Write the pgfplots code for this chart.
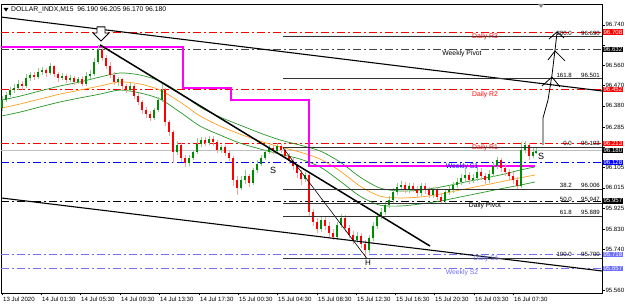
\documentclass[border=0pt]{standalone}
\usepackage{pgfplots}
\pgfplotsset{compat=1.18}
\usepackage{pgfplotstable}
\usepackage{fontspec}
\setmainfont{Liberation Sans}
\definecolor{mtred}{RGB}{255,0,0}
\definecolor{lblue}{RGB}{110,110,255}
\definecolor{mablue}{RGB}{0,0,255}
\definecolor{magent}{RGB}{255,0,255}
\definecolor{magreen}{RGB}{40,150,40}
\definecolor{maorange}{RGB}{255,160,30}
\definecolor{bullbody}{RGB}{0,140,0}
\definecolor{bullwick}{RGB}{140,205,140}
\definecolor{bearbody}{RGB}{255,0,0}
\definecolor{bearwick}{RGB}{255,160,160}
\definecolor{wpiv}{RGB}{70,70,70}
\definecolor{fibc}{RGB}{50,50,50}
\newcommand\ff{\fontsize{6.8}{7.5}\selectfont}
\newcommand\fs{\fontsize{6.1}{7}\selectfont}
\tikzset{dd/.style={dash pattern=on 8pt off 3pt on 2pt off 3pt, line width=0.7pt}}

\pgfplotstableread{
x o h l c
2 96.370 96.423 96.357 96.406
6 96.406 96.441 96.397 96.428
10 96.428 96.464 96.419 96.450
14 96.450 96.477 96.437 96.459
18 96.459 96.495 96.450 96.477
22 96.477 96.490 96.450 96.468
26 96.468 96.522 96.459 96.504
30 96.504 96.530 96.490 96.517
34 96.517 96.530 96.495 96.508
38 96.508 96.548 96.499 96.530
42 96.530 96.553 96.517 96.539
46 96.539 96.548 96.508 96.526
50 96.526 96.570 96.517 96.557
54 96.557 96.562 96.508 96.522
58 96.522 96.530 96.486 96.504
62 96.504 96.526 96.495 96.513
66 96.513 96.522 96.481 96.495
70 96.495 96.517 96.486 96.504
74 96.504 96.513 96.473 96.486
78 96.486 96.508 96.477 96.499
82 96.499 96.513 96.468 96.477
86 96.477 96.530 96.468 96.513
90 96.513 96.539 96.499 96.522
94 96.522 96.593 96.513 96.575
98 96.575 96.651 96.566 96.628
102 96.628 96.642 96.580 96.593
106 96.593 96.606 96.544 96.557
110 96.557 96.575 96.504 96.517
114 96.517 96.530 96.473 96.486
118 96.486 96.508 96.468 96.499
122 96.499 96.504 96.450 96.468
126 96.468 96.477 96.437 96.450
130 96.450 96.481 96.441 96.468
134 96.468 96.477 96.410 96.423
138 96.423 96.437 96.384 96.397
142 96.397 96.406 96.343 96.361
146 96.361 96.375 96.326 96.343
150 96.343 96.357 96.312 96.326
154 96.326 96.370 96.317 96.361
158 96.361 96.419 96.352 96.406
162 96.406 96.481 96.397 96.450
165 96.450 96.459 96.290 96.308
169 96.308 96.317 96.246 96.263
173 96.263 96.272 96.125 96.174
177 96.174 96.223 96.161 96.205
181 96.205 96.214 96.130 96.148
185 96.148 96.161 96.108 96.125
189 96.125 96.161 96.112 96.148
193 96.148 96.183 96.139 96.174
197 96.174 96.237 96.165 96.210
201 96.210 96.241 96.197 96.228
205 96.228 96.241 96.201 96.214
209 96.214 96.246 96.205 96.232
213 96.232 96.246 96.201 96.219
217 96.219 96.228 96.170 96.183
221 96.183 96.205 96.170 96.197
225 96.197 96.205 96.156 96.170
229 96.170 96.183 96.134 96.148
233 96.148 96.156 96.023 96.050
237 96.050 96.067 95.983 96.014
241 96.014 96.067 96.005 96.050
245 96.050 96.094 96.032 96.067
249 96.067 96.076 96.018 96.036
253 96.036 96.103 96.027 96.094
257 96.094 96.139 96.085 96.121
261 96.121 96.161 96.112 96.148
265 96.148 96.183 96.139 96.174
269 96.174 96.205 96.165 96.192
273 96.192 96.205 96.165 96.179
277 96.179 96.214 96.170 96.201
281 96.201 96.210 96.170 96.183
285 96.183 96.192 96.143 96.156
289 96.156 96.170 96.121 96.134
293 96.134 96.148 96.094 96.112
297 96.112 96.121 96.059 96.081
301 96.081 96.094 96.027 96.054
305 96.054 96.085 96.041 96.072
309 96.072 96.081 95.889 95.907
313 95.907 95.921 95.845 95.863
317 95.863 95.880 95.814 95.832
321 95.832 95.885 95.818 95.872
325 95.872 95.885 95.827 95.845
329 95.845 95.863 95.796 95.814
333 95.814 95.832 95.783 95.796
337 95.796 95.863 95.783 95.849
341 95.849 95.898 95.836 95.880
345 95.880 95.894 95.818 95.836
349 95.836 95.849 95.791 95.805
353 95.805 95.823 95.765 95.783
357 95.783 95.818 95.769 95.800
361 95.800 95.814 95.747 95.765
365 95.765 95.783 95.702 95.738
369 95.738 95.805 95.725 95.791
373 95.791 95.863 95.778 95.845
377 95.845 95.903 95.832 95.889
381 95.889 95.925 95.876 95.907
385 95.907 95.956 95.894 95.938
389 95.938 95.978 95.925 95.961
393 95.961 96.014 95.947 95.996
397 95.996 96.036 95.983 96.018
401 96.018 96.045 96.005 96.027
405 96.027 96.041 95.992 96.005
409 96.005 96.036 95.992 96.023
413 96.023 96.036 95.996 96.010
417 96.010 96.023 95.974 95.992
421 95.992 96.036 95.978 96.023
425 96.023 96.036 95.987 96.005
429 96.005 96.018 95.970 95.983
433 95.983 96.018 95.970 96.005
437 96.005 96.018 95.961 95.974
441 95.974 95.987 95.943 95.956
445 95.956 96.010 95.943 95.996
449 95.996 96.023 95.983 96.005
453 96.005 96.041 95.992 96.027
457 96.027 96.059 96.014 96.041
461 96.041 96.076 96.027 96.059
465 96.059 96.094 96.041 96.072
469 96.072 96.085 96.032 96.050
473 96.050 96.076 96.036 96.059
477 96.059 96.103 96.045 96.085
481 96.085 96.103 96.050 96.067
485 96.067 96.081 96.032 96.050
489 96.050 96.094 96.036 96.076
493 96.076 96.130 96.063 96.112
497 96.112 96.152 96.099 96.139
501 96.139 96.148 96.085 96.103
505 96.103 96.121 96.067 96.085
509 96.085 96.099 96.050 96.067
513 96.067 96.085 96.032 96.050
517 96.050 96.063 96.005 96.023
521 96.023 96.219 96.014 96.183
525 96.183 96.223 96.170 96.205
529 96.205 96.214 96.139 96.156
533 96.156 96.192 96.148 96.174
536 96.174 96.192 96.165 96.179
}\candles

\begin{document}
\begin{tikzpicture}
\useasboundingbox (0,0) rectangle (625pt,307pt);
\fill[white] (0,0) rectangle (625pt,307pt);
\begin{axis}[
  at={(1pt,14pt)}, anchor=south west,
  width=601pt, height=289pt, scale only axis,
  xmin=1, xmax=602, ymin=95.547, ymax=96.833,
  axis line style={line width=0.7pt, black},
  /pgf/number format/assume math mode=true,
  xtick={2,41,80,120,159,199,238,277,317,356,395,434,474,513},
  xticklabels={13 Jul 2020,14 Jul 01:30,14 Jul 05:30,14 Jul 09:30,14 Jul 13:30,14 Jul 17:30,15 Jul 00:30,15 Jul 04:30,15 Jul 08:30,15 Jul 12:30,15 Jul 16:30,15 Jul 20:30,16 Jul 03:30,16 Jul 07:30},
  xtick pos=bottom, ytick pos=right, tick align=outside,
  major tick length=2.5pt, tick style={black, line width=0.5pt},
  xticklabel style={anchor=north west, font=\fs, inner sep=0pt, yshift=-1.5pt, xshift=1pt},
  ytick={95.560,95.650,95.740,95.830,95.925,96.015,96.105,96.195,96.285,96.380,96.470,96.560,96.650,96.740},
  yticklabels={95.560,,95.740,95.830,95.925,96.015,96.105,,96.285,96.380,96.470,96.560,,96.740},
  yticklabel pos=right, scaled y ticks=false,
  yticklabel style={font=\fs, anchor=west, inner sep=0pt, xshift=0.8pt},
]
% pivot levels
\addplot[mtred, dd] coordinates {(1,96.708) (602,96.708)};
\addplot[wpiv, dd] coordinates {(1,96.632) (602,96.632)};
\addplot[mtred, dd] coordinates {(1,96.452) (602,96.452)};
\addplot[mtred, dd] coordinates {(1,96.213) (602,96.213)};
\addplot[black!25, line width=0.7pt] coordinates {(1,96.180) (602,96.180)};
\addplot[mablue, dd] coordinates {(1,96.128) (602,96.128)};
\addplot[black, dd] coordinates {(1,95.957) (602,95.957)};
\addplot[lblue, dd] coordinates {(1,95.718) (602,95.718)};
\addplot[lblue, dd] coordinates {(1,95.657) (602,95.657)};
% moving averages
\addplot[magreen, line width=0.7pt, smooth] coordinates {(2,96.406) (20,96.423) (40,96.446) (60,96.468) (80,96.486) (100,96.508) (120,96.526) (140,96.517) (160,96.490) (180,96.437) (200,96.375) (220,96.330) (240,96.294) (260,96.259) (280,96.228) (300,96.205) (320,96.179) (340,96.130) (360,96.063) (380,96.014) (400,96.001) (420,96.005) (440,96.018) (460,96.036) (480,96.054) (500,96.072) (520,96.094) (535,96.108)};
\addplot[maorange, line width=0.7pt, smooth] coordinates {(2,96.370) (20,96.388) (40,96.410) (60,96.432) (80,96.450) (100,96.468) (120,96.486) (140,96.477) (160,96.450) (180,96.397) (200,96.335) (220,96.290) (240,96.254) (260,96.223) (280,96.197) (300,96.174) (320,96.143) (340,96.090) (360,96.023) (380,95.978) (400,95.970) (420,95.974) (440,95.987) (460,96.005) (480,96.023) (500,96.041) (520,96.059) (535,96.072)};
\addplot[magreen, line width=0.7pt, smooth] coordinates {(2,96.335) (20,96.352) (40,96.375) (60,96.397) (80,96.415) (100,96.432) (120,96.450) (140,96.437) (160,96.410) (180,96.352) (200,96.290) (220,96.250) (240,96.214) (260,96.188) (280,96.165) (300,96.143) (320,96.108) (340,96.045) (360,95.978) (380,95.938) (400,95.934) (420,95.943) (440,95.956) (460,95.974) (480,95.992) (500,96.010) (520,96.027) (535,96.041)};
% weekly pivot step line
\addplot[magent, line width=1.4pt] coordinates {(1,96.642) (183,96.642) (183,96.459) (231,96.459) (231,96.406) (309,96.406) (309,96.112) (535,96.112)};
% candles: wicks and bodies
\addplot[draw=none, mark=none, forget plot, restrict y to domain=95:97,
  error bars/.cd, y dir=both, y explicit, error mark=none,
  error bar style={line width=0.8pt, color=bullwick}]
  table[x=x, y expr={\thisrow{c}>\thisrow{o} ? (\thisrow{h}+\thisrow{l})/2 : -100}, y error expr={(\thisrow{h}-\thisrow{l})/2}] {\candles};
\addplot[draw=none, mark=none, forget plot, restrict y to domain=95:97,
  error bars/.cd, y dir=both, y explicit, error mark=none,
  error bar style={line width=0.8pt, color=bearwick}]
  table[x=x, y expr={\thisrow{c}>\thisrow{o} ? -100 : (\thisrow{h}+\thisrow{l})/2}, y error expr={(\thisrow{h}-\thisrow{l})/2}] {\candles};
\addplot[draw=none, mark=none, forget plot, restrict y to domain=95:97,
  error bars/.cd, y dir=both, y explicit, error mark=none,
  error bar style={line width=1.7pt, color=bullbody}]
  table[x=x, y expr={\thisrow{c}>\thisrow{o} ? (\thisrow{o}+\thisrow{c})/2 : -100}, y error expr={abs(\thisrow{c}-\thisrow{o})/2}] {\candles};
\addplot[draw=none, mark=none, forget plot, restrict y to domain=95:97,
  error bars/.cd, y dir=both, y explicit, error mark=none,
  error bar style={line width=1.7pt, color=bearbody}]
  table[x=x, y expr={\thisrow{c}>\thisrow{o} ? -100 : (\thisrow{o}+\thisrow{c})/2}, y error expr={abs(\thisrow{c}-\thisrow{o})/2}] {\candles};
% trend lines
\addplot[black, line width=1.1pt] coordinates {(1,96.775) (602,96.446)};
\addplot[black, line width=1.1pt] coordinates {(1,95.970) (602,95.645)};
\addplot[black, line width=1.5pt] coordinates {(100,96.651) (430,95.756)};
\addplot[black, line width=0.6pt] coordinates {(283,96.193) (367,95.700)};
% fibonacci levels
\addplot[fibc, line width=1pt] coordinates {(283,96.690) (602,96.690)};
\addplot[fibc, line width=1pt] coordinates {(283,96.501) (602,96.501)};
\addplot[fibc, line width=1pt] coordinates {(283,96.193) (602,96.193)};
\addplot[fibc, line width=1pt] coordinates {(283,96.006) (602,96.006)};
\addplot[fibc, line width=1pt] coordinates {(283,95.947) (602,95.947)};
\addplot[fibc, line width=1pt] coordinates {(283,95.889) (602,95.889)};
\addplot[fibc, line width=1pt] coordinates {(283,95.700) (602,95.700)};
% fib texts
\node[font=\fs, anchor=east, inner sep=0pt] at (axis cs:572,96.704) {200.0};
\node[font=\fs, anchor=east, inner sep=0pt] at (axis cs:600,96.704) {96.690};
\node[font=\fs, anchor=east, inner sep=0pt] at (axis cs:572,96.517) {161.8};
\node[font=\fs, anchor=east, inner sep=0pt] at (axis cs:600,96.517) {96.501};
\node[font=\fs, anchor=east, inner sep=0pt] at (axis cs:572,96.212) {0.0};
\node[font=\fs, anchor=east, inner sep=0pt] at (axis cs:600,96.212) {96.193};
\node[font=\fs, anchor=east, inner sep=0pt] at (axis cs:572,96.025) {38.2};
\node[font=\fs, anchor=east, inner sep=0pt] at (axis cs:600,96.025) {96.006};
\node[font=\fs, anchor=east, inner sep=0pt] at (axis cs:572,95.965) {50.0};
\node[font=\fs, anchor=east, inner sep=0pt] at (axis cs:600,95.965) {95.947};
\node[font=\fs, anchor=east, inner sep=0pt] at (axis cs:572,95.907) {61.8};
\node[font=\fs, anchor=east, inner sep=0pt] at (axis cs:600,95.907) {95.889};
\node[font=\fs, anchor=east, inner sep=0pt] at (axis cs:572,95.718) {100.0};
\node[font=\fs, anchor=east, inner sep=0pt] at (axis cs:600,95.718) {95.700};
% pivot names
\node[font=\ff, text=mtred] at (axis cs:485,96.686) {Daily R3};
\node[font=\ff, text=black] at (axis cs:462,96.611) {Weekly Pivot};
\node[font=\ff, text=mtred] at (axis cs:485,96.428) {Daily R2};
\node[font=\ff, text=mtred] at (axis cs:485,96.192) {Daily R1};
\node[font=\ff, text=mablue] at (axis cs:462,96.108) {Weekly S1};
\node[font=\ff, text=black] at (axis cs:485,95.934) {Daily Pivot};
\node[font=\ff, text=lblue] at (axis cs:486,95.698) {Daily S1};
\node[font=\ff, text=lblue] at (axis cs:462,95.636) {Weekly S2};
% pattern labels
\node[font=\fontsize{9}{10}\selectfont] at (axis cs:273,96.094) {S};
\node[font=\fontsize{9}{10}\selectfont] at (axis cs:541,96.156) {S};
\node[font=\fontsize{8}{9}\selectfont] at (axis cs:368,95.682) {H};
% hollow down arrow at the peak
\draw[black, line width=0.9pt, fill=white] (axis cs:97,96.731) -- (axis cs:105,96.731) -- (axis cs:105,96.704) -- (axis cs:109,96.704) -- (axis cs:101,96.668) -- (axis cs:93,96.704) -- (axis cs:97,96.704) -- cycle;
% hand drawn arrow
\draw[black, line width=0.8pt] (axis cs:543,96.205) -- (axis cs:543,96.326) -- (axis cs:548,96.406) -- (axis cs:552,96.517) -- (axis cs:555,96.628) -- (axis cs:557,96.704);
\draw[black, line width=0.8pt] (axis cs:542,96.468) -- (axis cs:552,96.508) -- (axis cs:560,96.464);
\draw[black, line width=0.8pt] (axis cs:548,96.584) -- (axis cs:555,96.624) -- (axis cs:565,96.580);
\draw[black, line width=0.8pt] (axis cs:549,96.677) -- (axis cs:557,96.709) -- (axis cs:564,96.682);
% coordinates for price boxes
\coordinate (p1) at (axis cs:602,96.708);
\coordinate (p2) at (axis cs:602,96.632);
\coordinate (p3) at (axis cs:602,96.452);
\coordinate (p4) at (axis cs:602,96.213);
\coordinate (p5) at (axis cs:602,96.180);
\coordinate (p6) at (axis cs:602,96.128);
\coordinate (p7) at (axis cs:602,95.957);
\coordinate (p8) at (axis cs:602,95.718);
\coordinate (p9) at (axis cs:602,95.657);
\end{axis}
\tikzset{pb/.style={font=\fs, text=white, inner xsep=0.6pt, inner ysep=0.5pt, anchor=west}}
\node[pb, fill=mtred] at ([xshift=0.8pt]p1) {96.708};
\node[pb, fill=black] at ([xshift=0.8pt]p2) {96.632};
\node[pb, fill=mtred] at ([xshift=0.8pt]p3) {96.452};
\node[pb, fill=mtred] at ([xshift=0.8pt]p4) {96.213};
\node[pb, fill=black] at ([xshift=0.8pt]p5) {96.180};
\node[pb, fill=mablue] at ([xshift=0.8pt]p6) {96.128};
\node[pb, fill=black] at ([xshift=0.8pt]p7) {95.957};
\node[pb, fill=lblue] at ([xshift=0.8pt]p8) {95.718};
\node[pb, fill=lblue] at ([xshift=0.8pt]p9) {95.657};
% title
\fill[black] (3.5pt,299pt) -- (8.5pt,299pt) -- (6pt,295.5pt) -- cycle;
\node[anchor=west, font=\ff, inner sep=0pt] at (11pt,297pt) {DOLLAR\_INDX,M15\ \ 96.190 96.205 96.170 96.180};
\fill[black!45] (538pt,303pt) -- (544pt,303pt) -- (541pt,299pt) -- cycle;
\end{tikzpicture}
\end{document}
